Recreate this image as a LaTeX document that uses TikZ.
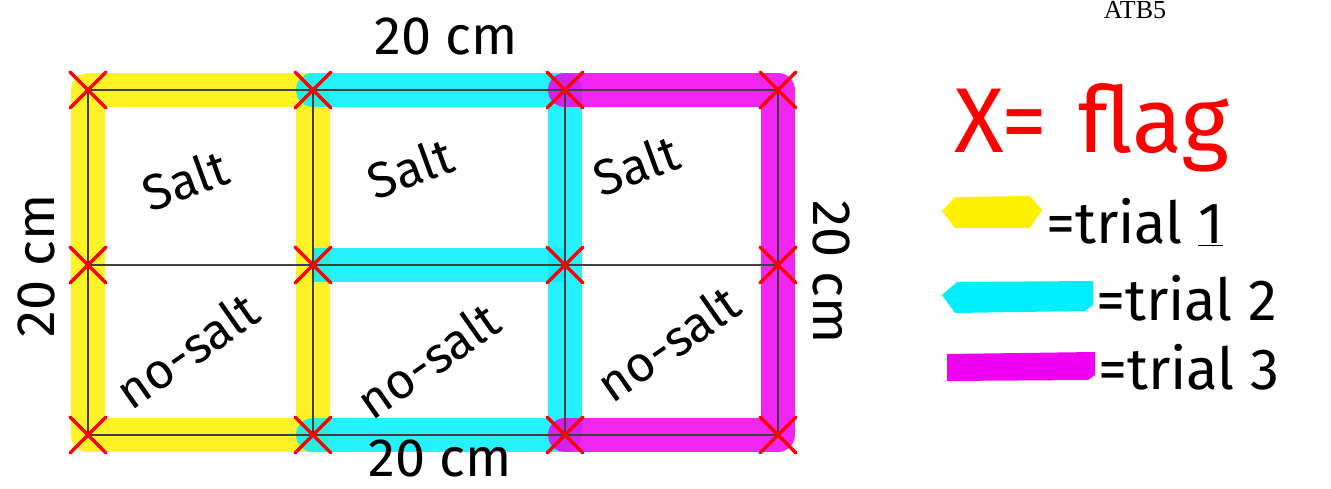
\documentclass[tikz,border=0pt]{standalone}
\usepackage{fontspec}
\setmainfont{Fira Sans}
\newfontfamily\serifatb{Liberation Serif}
\definecolor{hlyellow}{RGB}{255,240,0}
\definecolor{hlcyan}{RGB}{0,238,255}
\definecolor{hlmagenta}{RGB}{240,0,240}
\definecolor{flagred}{RGB}{255,0,0}
\begin{document}
\begin{tikzpicture}[x=1pt,y=-1pt,
  hl/.style={line width=34pt,line join=round,opacity=0.85},
  grid/.style={line width=1.5pt,black!75},
  flagx/.style={flagred,line width=3.5pt,line cap=round},
  hand/.style={font=\fontsize{54}{54}\selectfont,inner sep=0pt},
  cell/.style={font=\fontsize{50}{50}\selectfont,inner sep=0pt},
  legend/.style={font=\fontsize{58}{58}\selectfont,inner sep=0pt,anchor=west}]
\useasboundingbox (0,0) rectangle (1331,489);
% grid vertices
\coordinate (a1) at (88,90);  \coordinate (b1) at (313,90);  \coordinate (c1) at (565,90);  \coordinate (d1) at (778,90);
\coordinate (a2) at (88,265); \coordinate (b2) at (313,265); \coordinate (c2) at (565,265); \coordinate (d2) at (778,265);
\coordinate (a3) at (88,435); \coordinate (b3) at (313,435); \coordinate (c3) at (565,435); \coordinate (d3) at (778,435);
% highlights
\draw[hl,hlyellow] (b1) -- (a1) -- (a3) -- (b3) -- (b1);
\draw[hl,hlcyan,line cap=round] (b1) -- (c1) -- (c3) -- (b3);
\draw[hl,hlcyan] (b2) -- (c2);
\draw[hl,hlmagenta,line cap=round] (c1) -- (d1) -- (d3) -- (c3);
% grid lines
\draw[grid] (a1) rectangle (d3);
\draw[grid] (a2) -- (d2);
\draw[grid] (b1) -- (b3) (c1) -- (c3);
% flags
\foreach \p in {a1,b1,c1,d1,a2,b2,c2,d2,a3,b3,c3,d3}
  \draw[flagx] ([shift={(-18,-18)}]\p) -- ([shift={(18,18)}]\p) ([shift={(18,-18)}]\p) -- ([shift={(-18,18)}]\p);
% dimension labels
\node[hand] (top) at (446,36) {20 cm};
\node[hand] (bot) at (440,458) {20 cm};
\node[hand,rotate=90] (left) at (36,266) {20 cm};
\node[hand,rotate=-90] (right) at (832,272) {20 cm};
% cell labels
\node[cell,rotate=20] (s1) at (185,180) {Salt};
\node[cell,rotate=20] (s2) at (410,168) {Salt};
\node[cell,rotate=20] (s3) at (636,165) {Salt};
\node[cell,rotate=35] (n1) at (187,350) {no-salt};
\node[cell,rotate=35] (n2) at (428,360) {no-salt};
\node[cell,rotate=35] (n3) at (668,343) {no-salt};
% flag key
\node[font=\fontsize{92}{92}\selectfont,text=flagred,inner sep=0pt] (key) at (1092,128) {X=\,\,flag};
% legend
\fill[hlyellow] (942,211) -- (955,197) -- (1030,196) -- (1042,210) -- (1030,228) -- (955,228) -- cycle;
\node[legend] (t1) at (1046,222) {=trial \underline{1}};
\fill[hlcyan] (942,295) -- (957,282) -- (1093,281) -- (1093,305) -- (1085,311) -- (955,313) -- cycle;
\node[legend] (t2) at (1096,298) {=trial 2};
\fill[hlmagenta] (947,354) -- (1095,352) -- (1095,375) -- (1088,380) -- (947,381) -- cycle;
\node[legend] (t3) at (1098,367) {=trial 3};
% corner tag
\node[font=\serifatb\fontsize{26}{26}\selectfont,inner sep=0pt] (tag) at (1135,10) {ATB5};
\end{tikzpicture}
\end{document}
